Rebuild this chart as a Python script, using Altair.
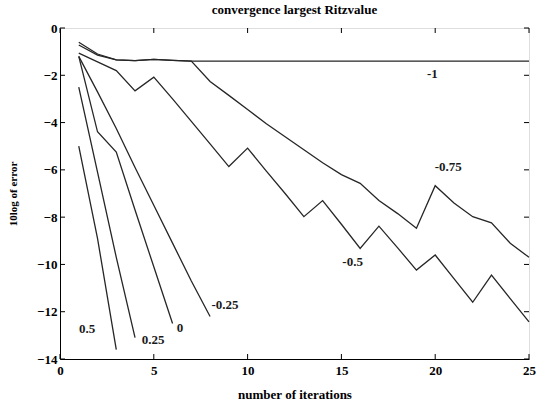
import altair as alt
import pandas as pd

# ---- data ----
iters_long = list(range(1, 26))
s_m1 = [-0.6, -1.1, -1.35, -1.38, -1.33, -1.37, -1.4, -1.4, -1.4, -1.4, -1.4, -1.4, -1.4,
        -1.4, -1.4, -1.4, -1.4, -1.4, -1.4, -1.4, -1.4, -1.4, -1.4, -1.4, -1.4]
s_m075 = [-0.72, -1.15, -1.35, -1.38, -1.33, -1.37, -1.4, -2.26, -2.85, -3.45, -4.05, -4.6, -5.15,
          -5.7, -6.2, -6.57, -7.3, -7.85, -8.47, -6.67, -7.4, -7.98, -8.24, -9.1, -9.7]
s_m05 = [-1.06, -1.43, -1.8, -2.66, -2.08, -3.0, -3.95, -4.9, -5.86, -5.08, -6.05, -7.0, -7.98,
         -7.3, -8.3, -9.32, -8.38, -9.3, -10.24, -9.6, -10.6, -11.6, -10.45, -11.45, -12.43]
s_m025 = [-1.2, -2.7, -4.25, -5.9, -7.5, -9.1, -10.7, -12.2]
s_0 = [-1.2, -4.39, -5.25, -7.7, -10.1, -12.5]
s_025 = [-2.5, -6.1, -9.7, -13.1]
s_05 = [-5.0, -8.9, -13.6]

series_names = ["-1", "-0.75", "-0.5", "-0.25", "0", "0.25", "0.5"]
series_vals = [s_m1, s_m075, s_m05, s_m025, s_0, s_025, s_05]

label_text = ["-1", "-0.75", "-0.5", "-0.25", "0", "0.25", "0.5"]
label_x = [19.85, 20.7, 15.6, 8.8, 6.4, 4.97, 1.44]
label_y = [-1.95, -5.9, -9.9, -11.72, -12.7, -13.2, -12.75]

x_ticks = [0, 5, 10, 15, 20, 25]
y_ticks = [0, -2, -4, -6, -8, -10, -12, -14]

rows = []
for name, vals in zip(series_names, series_vals):
    for i, v in enumerate(vals):
        rows.append({"x": iters_long[i], "y": v, "series": name})
df = pd.DataFrame(rows)
lab_df = pd.DataFrame({"x": label_x, "y": label_y, "t": label_text})
xt_df = pd.DataFrame({"x": x_ticks})
yt_df = pd.DataFrame({"y": y_ticks})

W, H = 469, 331
FONT = "Liberation Serif"

xscale = alt.Scale(domain=[0, 25], nice=False, zero=False)
yscale = alt.Scale(domain=[-14, 0], nice=False, zero=False)

xaxis = alt.Axis(values=x_ticks, title="number of iterations", ticks=False, grid=False,
                 labelPadding=5, labelFont=FONT, labelFontSize=13, labelFontWeight="bold",
                 labelColor="black", titleFont=FONT, titleFontSize=13, titleFontWeight="bold",
                 titleColor="black", titleY=35, titleBaseline="middle",
                 domainColor="black", labelFlush=False)
yaxis = alt.Axis(values=y_ticks, title="10log of error", ticks=False, grid=False,
                 labelPadding=3, labelFont=FONT, labelFontSize=13, labelFontWeight="bold",
                 labelColor="black", titleFont=FONT, titleFontSize=11, titleFontWeight="bold",
                 titleColor="black", titleX=-47, titleBaseline="middle", titleAlign="center",
                 titleAngle=-90, domainColor="black", labelFlush=False)

lines = alt.Chart(df).mark_line(color="#262626", strokeWidth=1.3).encode(
    x=alt.X("x:Q", scale=xscale, axis=xaxis),
    y=alt.Y("y:Q", scale=yscale, axis=yaxis),
    detail="series:N",
)

labels = alt.Chart(lab_df).mark_text(font=FONT, fontSize=13, fontWeight="bold",
                                     color="#1a1a1a", align="center", baseline="middle").encode(
    x=alt.X("x:Q", scale=xscale), y=alt.Y("y:Q", scale=yscale), text="t:N"
)

tick_b = alt.Chart(xt_df).mark_rule(color="black", strokeWidth=1).encode(
    x=alt.X("x:Q", scale=xscale), y=alt.value(H), y2=alt.value(H - 5))
tick_t = alt.Chart(xt_df).mark_rule(color="black", strokeWidth=1).encode(
    x=alt.X("x:Q", scale=xscale), y=alt.value(0), y2=alt.value(5))
tick_l = alt.Chart(yt_df).mark_rule(color="black", strokeWidth=1).encode(
    y=alt.Y("y:Q", scale=yscale), x=alt.value(0), x2=alt.value(5))
tick_r = alt.Chart(yt_df).mark_rule(color="black", strokeWidth=1).encode(
    y=alt.Y("y:Q", scale=yscale), x=alt.value(W), x2=alt.value(W - 5))

chart = alt.layer(lines, labels, tick_b, tick_t, tick_l, tick_r).properties(
    width=W, height=H,
    title=alt.TitleParams("convergence largest Ritzvalue", font=FONT, fontSize=13,
                          fontWeight="bold", color="black", offset=5, anchor="middle"),
    autosize=alt.AutoSizeParams(type="none"),
    padding={"left": 60, "top": 28, "right": 7, "bottom": 48},
).configure_view(stroke="black", strokeWidth=1).configure(background="white")

chart.save("out.html", embed_options={"renderer": "svg", "actions": False})
